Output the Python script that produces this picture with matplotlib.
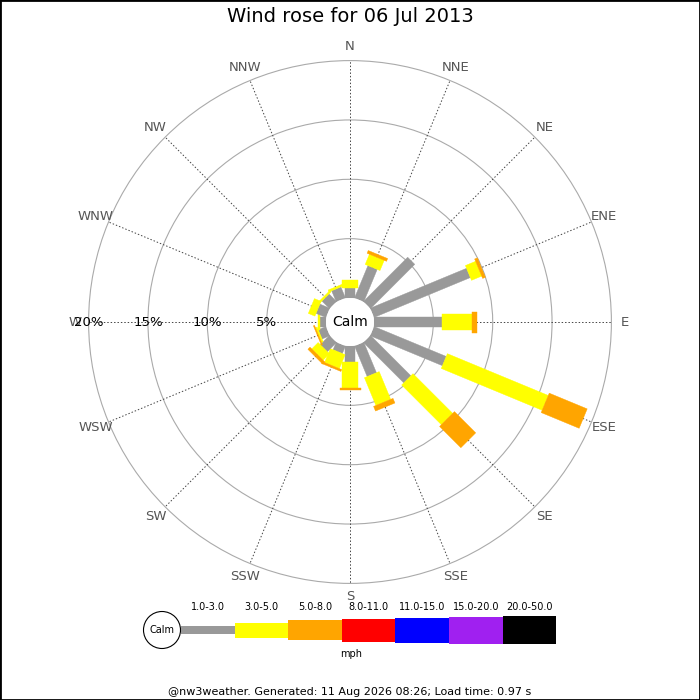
import numpy as np
import matplotlib.pyplot as plt
from matplotlib.patches import Polygon, Circle, Rectangle

directions = ["N", "NNE", "NE", "ENE", "E", "ESE", "SE", "SSE",
              "S", "SSW", "SW", "WSW", "W", "WNW", "NW", "NNW"]

# percent of the day in each speed band, per direction
pct_1_3 = [0.84, 2.95, 5.27, 8.78, 5.74, 6.58, 4.81, 2.78,
           1.35, 0.68, 1.10, 0.70, 0.50, 0.90, 0.90, 1.00]
pct_3_5 = [0.68, 0.93, 0.00, 0.93, 2.53, 9.20, 4.73, 2.53,
           2.19, 1.27, 0.76, 0.15, 0.17, 0.60, 0.15, 0.17]
pct_5_8 = [0.00, 0.25, 0.00, 0.25, 0.42, 3.46, 2.53, 0.42,
           0.17, 0.17, 0.25, 0.10, 0.00, 0.00, 0.00, 0.00]

speed_bins = ["1.0-3.0", "3.0-5.0", "5.0-8.0", "8.0-11.0",
              "11.0-15.0", "15.0-20.0", "20.0-50.0"]
bin_colors = ["#999999", "#ffff00", "#ffa500", "#ff0000",
              "#0000ff", "#a020f0", "#000000"]

ring_values = [5, 10, 15, 20]
ring_labels = ["5%", "10%", "15%", "20%"]

title = "Wind rose for 06 Jul 2013"
footer = "@nw3weather. Generated: 11 Aug 2026 08:26; Load time: 0.97 s"

W, H = 700, 700
CX, CY = 350, 322          # rose centre, pixels from top-left
PX = 11.87                 # pixels per percent
CALM = 24 / PX             # calm circle radius in percent units

fig = plt.figure(figsize=(7, 7), dpi=100)
ax = fig.add_axes([0, 0, 1, 1])
ax.set_xlim(-CX / PX, (W - CX) / PX)
ax.set_ylim(-(H - CY) / PX, CY / PX)
ax.set_aspect("equal")
ax.axis("off")

# rings
for v, lab in zip(ring_values, ring_labels):
    ax.add_patch(Circle((0, 0), CALM + v, fill=False, ec="#aaaaaa", lw=0.8, zorder=1))

# spokes and compass labels
r_out = CALM + ring_values[-1]
for i, d in enumerate(directions):
    th = np.deg2rad(90 - 22.5 * i)
    c, s = np.cos(th), np.sin(th)
    ax.plot([CALM * c, r_out * c], [CALM * s, r_out * s], color="#444444",
            lw=0.7, ls=(0, (1.5, 2)), zorder=2)
    rl = 275 / PX
    ax.text(rl * c, rl * s, d, ha="center", va="center", fontsize=9.5,
            color="#555555", zorder=5)

for v, lab in zip(ring_values, ring_labels):
    ax.text(-(CALM + v), 0, lab, ha="center", va="center", fontsize=9.5,
            color="black", zorder=6)

# bars
series = [(pct_1_3, 10, bin_colors[0]),
          (pct_3_5, 16, bin_colors[1]),
          (pct_5_8, 21, bin_colors[2])]
for i, d in enumerate(directions):
    th = np.deg2rad(90 - 22.5 * i)
    u = np.array([np.cos(th), np.sin(th)])
    n = np.array([-np.sin(th), np.cos(th)])
    r0 = CALM
    for vals, width, col in series:
        v = vals[i]
        if v <= 0:
            continue
        r1 = r0 + v
        hw = width / 2 / PX
        pts = [r0 * u + hw * n, r1 * u + hw * n, r1 * u - hw * n, r0 * u - hw * n]
        ax.add_patch(Polygon(pts, closed=True, fc=col, ec=col, lw=0.3, zorder=4))
        r0 = r1

ax.add_patch(Circle((0, 0), CALM, fc="white", ec="none", zorder=7))
ax.text(0, 0, "Calm", ha="center", va="center", fontsize=10, zorder=8)

# title
fig.text(0.5, 1 - 17 / H, title, ha="center", va="center", fontsize=14)

# legend in pixel coordinates
lg = fig.add_axes([0, 0, 1, 1], facecolor="none")
lg.set_xlim(0, W)
lg.set_ylim(H, 0)
lg.axis("off")
ly = 630
lg.add_patch(Circle((162, ly), 18.5, fc="white", ec="black", lw=0.8))
lg.text(162, ly, "Calm", ha="center", va="center", fontsize=7)
heights = [8, 15, 20, 23, 25, 27, 28]
x0, seg = 181, 53.6
for k, (lab, col, h) in enumerate(zip(speed_bins, bin_colors, heights)):
    lg.add_patch(Rectangle((x0 + k * seg, ly - h / 2), seg, h, fc=col, ec="none"))
    lg.text(x0 + (k + 0.5) * seg, 607, lab, ha="center", va="center", fontsize=7)
lg.text(351, 654, "mph", ha="center", va="center", fontsize=7)
lg.text(350, 692, footer, ha="center", va="center", fontsize=8)

fig.patches.append(Rectangle((0, 0), 1, 1, transform=fig.transFigure,
                             fill=False, ec="black", lw=2))

fig.savefig("out.png", dpi=100)
